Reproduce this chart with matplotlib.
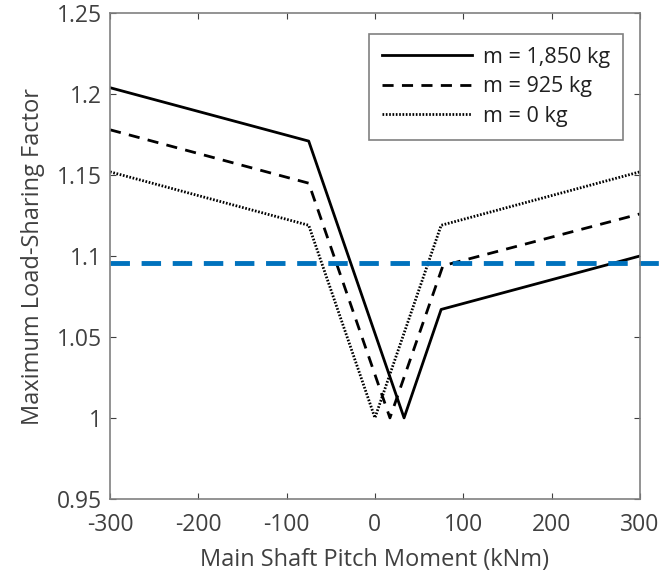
import numpy as np
import matplotlib
matplotlib.use("Agg")
import matplotlib.pyplot as plt

plt.rcParams['font.family'] = ['Open Sans', 'DejaVu Sans']
plt.rcParams['axes.unicode_minus'] = False

# data
x_heavy = [-300, -75, 33, 75, 300]
y_heavy = [1.204, 1.171, 1.000, 1.067, 1.100]
x_mid = [-300, -75, 17, 77, 300]
y_mid = [1.178, 1.145, 1.000, 1.094, 1.126]
x_zero = [-300, -75, 0, 75, 300]
y_zero = [1.152, 1.119, 1.000, 1.119, 1.152]
threshold = 1.0955

xticks = [-300, -200, -100, 0, 100, 200, 300]
yticks = [0.95, 1.0, 1.05, 1.1, 1.15, 1.2, 1.25]
ytick_labels = ['0.95', '1', '1.05', '1.1', '1.15', '1.2', '1.25']

grey = '#404040'

fig = plt.figure(figsize=(6.63, 5.76), dpi=100)
ax = fig.add_axes([0.166, 0.134, 0.799, 0.843])

ax.plot(x_heavy, y_heavy, color='k', lw=2.0, ls='-', label='m = 1,850 kg')
ax.plot(x_mid, y_mid, color='k', lw=2.0, ls=(0, (4, 3)), label='m = 925 kg')
ax.plot(x_zero, y_zero, color='k', lw=2.0, ls=(0, (0.6, 0.6)), label='m = 0 kg')
ax.axhline(threshold, xmin=0, xmax=1.04, color='#0072BD', lw=3.5,
           ls=(0, (4, 2.4)), clip_on=False)

ax.set_xlim(-300, 300)
ax.set_ylim(0.95, 1.25)
ax.set_xticks(xticks)
ax.set_yticks(yticks)
ax.set_yticklabels(ytick_labels)
ax.tick_params(direction='in', length=4, width=0.8, colors=grey,
               labelsize=16.5, top=True, right=True, pad=6)
ax.tick_params(axis='x', pad=10)
for s in ax.spines.values():
    s.set_color('#808080')
    s.set_linewidth(1.2)

ax.set_xlabel('Main Shaft Pitch Moment (kNm)', fontsize=17, color=grey, labelpad=8)
ax.set_ylabel('Maximum Load-Sharing Factor', fontsize=17, color=grey, labelpad=8)

leg = ax.legend(loc='upper right', bbox_to_anchor=(0.968, 0.958), fontsize=15.5,
                frameon=True, fancybox=False, handlelength=4.2,
                borderpad=0.6, labelspacing=0.4, handletextpad=0.5,
                borderaxespad=0)
leg.get_frame().set_edgecolor('#606060')
leg.get_frame().set_linewidth(1.2)
for t in leg.get_texts():
    t.set_color('#202020')

fig.savefig('out.png', dpi=100)
